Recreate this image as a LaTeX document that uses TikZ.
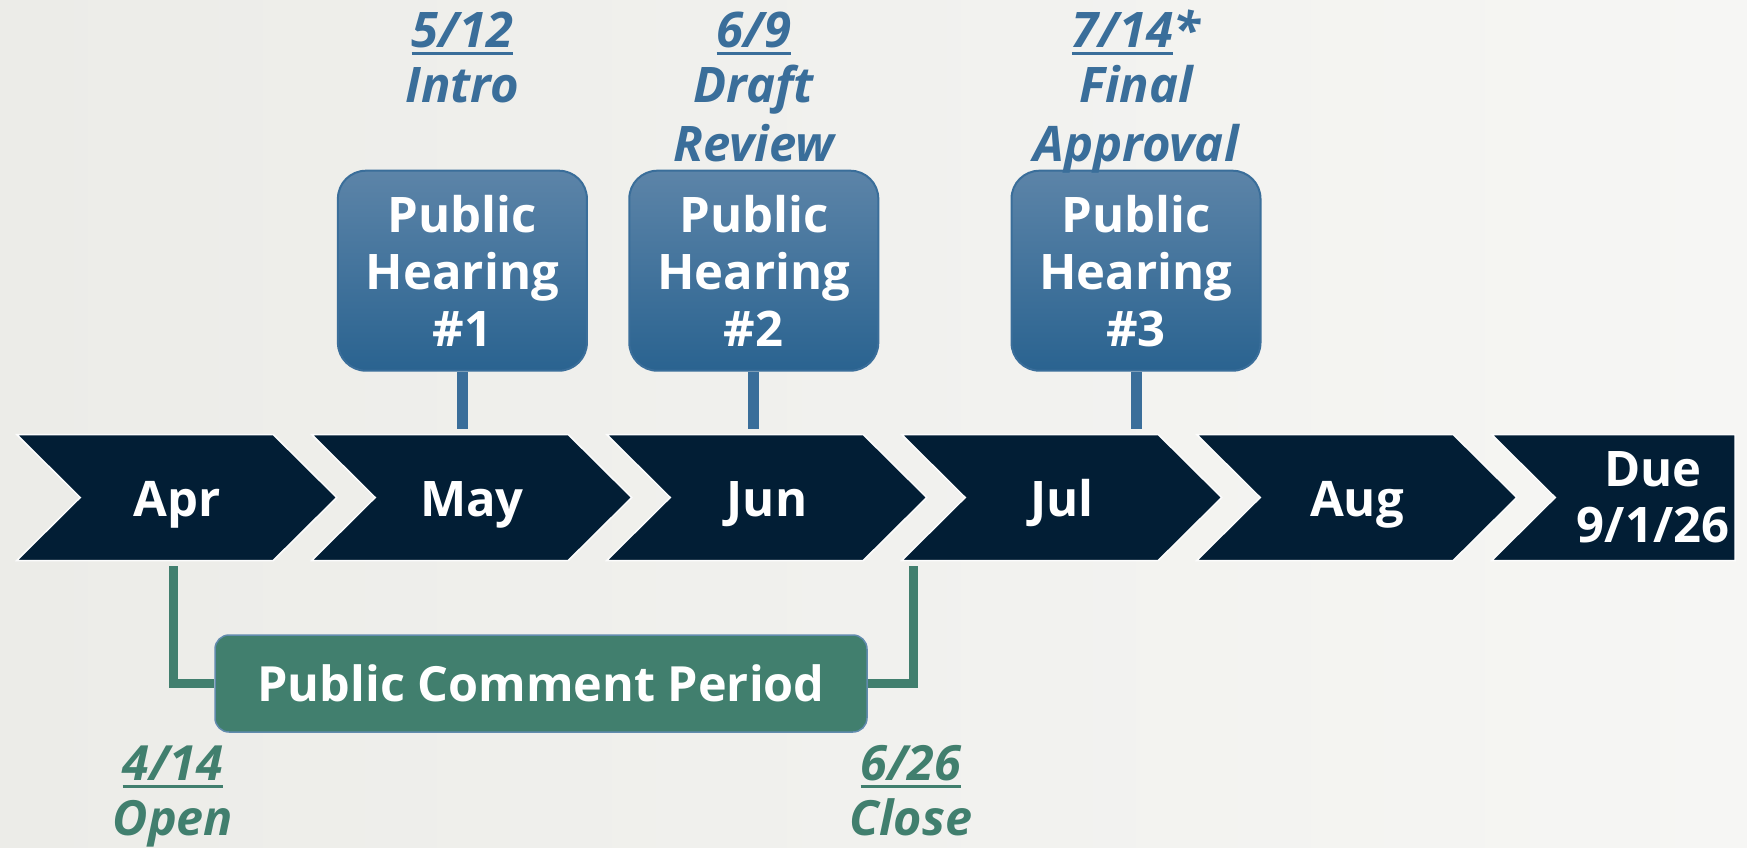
\documentclass[tikz,border=0pt]{standalone}
\usepackage{fontspec}
\setmainfont{Open Sans}
\definecolor{navy}{HTML}{021E35}
\definecolor{hblue}{HTML}{3A6E9A}
\definecolor{htop}{HTML}{5C84A8}
\definecolor{hbot}{HTML}{2A6390}
\definecolor{cgreen}{HTML}{417F6E}
\definecolor{bgA}{HTML}{ECECE8}
\definecolor{bgB}{HTML}{F6F6F4}
\newcommand\myul[1]{\setbox0\hbox{#1}\rlap{\rule[-0.16em]{\wd0}{0.05em}}\box0}
\tikzset{
  chev/.style={fill=navy, draw=white!70!bgB, line width=1.5pt},
  month/.style={anchor=base, text=white, font=\fontsize{49}{57}\selectfont\bfseries, inner sep=0pt},
  hearing/.style={rounded corners=28pt, top color=htop, bottom color=hbot, draw=hblue, line width=2pt,
    minimum width=249pt, minimum height=200pt, align=center, text=white, inner sep=0pt,
    font=\fontsize{49}{57}\selectfont\bfseries},
  stem/.style={draw=hblue, line width=11pt},
  toplab/.style={anchor=base, text=hblue, font=\fontsize{49}{56}\selectfont\bfseries\itshape, inner sep=0pt},
  botlab/.style={anchor=base, text=cgreen, font=\fontsize{48.5}{56}\selectfont\bfseries\itshape, inner sep=0pt},
  comment/.style={rounded corners=14pt, fill=cgreen, draw=hblue!80, line width=1.5pt,
    minimum width=652pt, minimum height=97pt, text=white, inner sep=0pt,
    font=\fontsize{48.5}{56}\selectfont\bfseries},
  gline/.style={draw=cgreen, line width=9pt},
}
\begin{document}
\begin{tikzpicture}[x=1pt,y=-1pt]
\useasboundingbox (0,0) rectangle (1747,847);
\fill[left color=bgA, right color=bgB] (0,0) rectangle (1747,847);
% chevrons
\foreach \k in {0,...,4}{
  \fill[chev] (16.7+295*\k,434.5) -- ++(256.5,0) -- ++(63.5,63) -- ++(-63.5,63) -- ++(-256.5,0) -- ++(63.5,-63) -- cycle;
}
\fill[chev] (1491.7,434.5) -- (1735,434.5) -- (1735,560.5) -- (1491.7,560.5) -- ++(63.5,-63) -- cycle;
% month labels
\node[month] (apr) at (177,516) {Apr};
\node[month] (may) at (472,516) {May};
\node[month] (jun) at (767,516) {Jun};
\node[month] (jul) at (1062,516) {Jul};
\node[month] (aug) at (1357,516) {Aug};
\node[month] (due1) at (1653,486) {Due};
\node[month] (due2) at (1653,542) {9/1/26};
% hearing boxes
\node[hearing] (h1) at (462.4,270.7) {Public\\Hearing\\\#1};
\node[hearing] (h2) at (753.8,270.7) {Public\\Hearing\\\#2};
\node[hearing] (h3) at (1136,270.7) {Public\\Hearing\\\#3};
\coordinate (s1) at (462.4,429);
\coordinate (s2) at (753.8,429);
\coordinate (s3) at (1136,429);
\draw[stem] (h1.south) -- (s1);
\draw[stem] (h2.south) -- (s2);
\draw[stem] (h3.south) -- (s3);
% top labels
\node[toplab] (d1) at (462.4,47) {\myul{5/12}};
\node[toplab] (t1) at (462.4,102.5) {Intro};
\node[toplab] (d2) at (753.8,47) {\myul{6/9}};
\node[toplab] (t2a) at (753.8,102.5) {Draft};
\node[toplab] (t2b) at (753.8,161.5) {Review};
\node[toplab] (d3) at (1136,47) {\myul{7/14}*};
\node[toplab] (t3a) at (1136,102.5) {Final};
\node[toplab] (t3b) at (1136,161.5) {Approval};
% comment period
\node[comment] (pc) at (541,683.5) {Public Comment Period};
\coordinate (gl) at (173,566);
\coordinate (gr) at (913.6,566);
\draw[gline] (gl) |- (pc.west);
\draw[gline] (gr) |- (pc.east);
\node[botlab] (o1) at (173,780) {\myul{4/14}};
\node[botlab] (o2) at (173,835.5) {Open};
\node[botlab] (c1) at (911,780) {\myul{6/26}};
\node[botlab] (c2) at (911,835.5) {Close};
\end{tikzpicture}
\end{document}
